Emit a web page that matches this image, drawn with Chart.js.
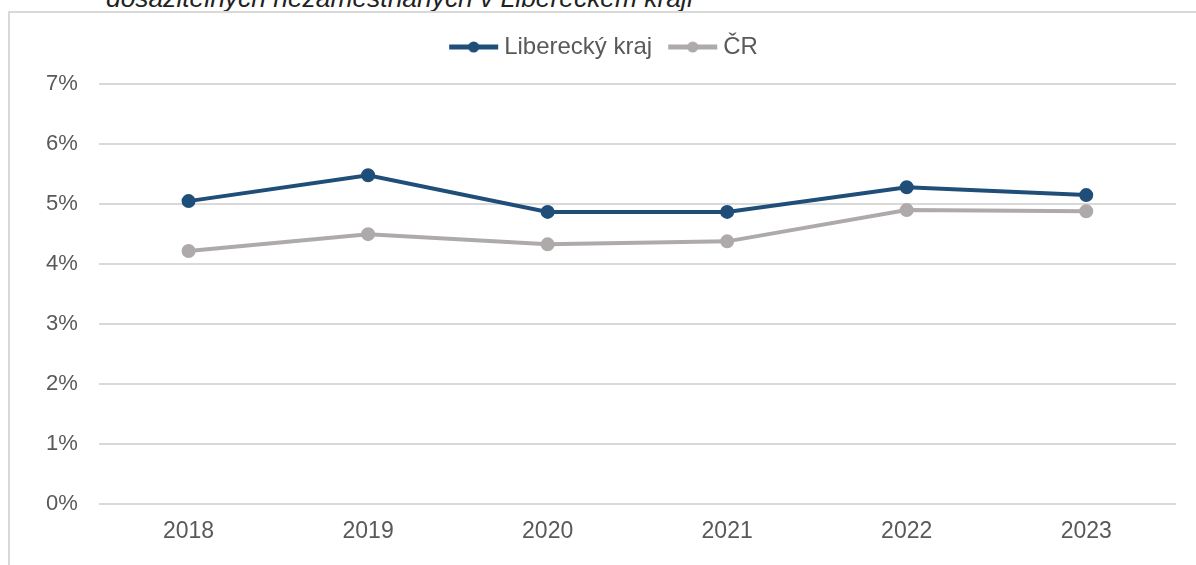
<!DOCTYPE html>
<html>
<head>
<meta charset="utf-8">
<script src="https://cdn.jsdelivr.net/npm/chart.js@4"></script>
<style>
  body { margin: 0; background: #fff; overflow: hidden; width: 1196px; height: 565px; position: relative; font-family: "Liberation Sans", Arial, sans-serif; }
  #title { position: absolute; left: 106px; top: -15px; font-size: 26.4px; line-height: 1; font-style: italic; color: #222; white-space: nowrap; }
  #frame { position: absolute; left: 8px; top: 11px; width: 1300px; height: 700px; border: 2px solid #d9d9d9; box-sizing: border-box; }
  #wrap { position: absolute; left: 0; top: 0; width: 1196px; height: 565px; }
</style>
</head>
<body>
<div id="title">dosažitelných nezaměstnaných v Libereckém kraji</div>
<div id="frame"></div>
<div id="wrap"><canvas id="lineChart"></canvas></div>
<script>
var years = ["2018", "2019", "2020", "2021", "2022", "2023"];
var liberecky = [5.05, 5.48, 4.87, 4.87, 5.28, 5.15];
var cr = [4.22, 4.50, 4.33, 4.38, 4.90, 4.88];
var seriesNames = ["Liberecký kraj", "ČR"];
var seriesColors = ["#1f4e79", "#aeaaaa"];

function legendMarker(color) { // line with a dot, like the excel legend
    var c = document.createElement("canvas");
    c.width = 65; c.height = 12;
    var ctx = c.getContext("2d");
    ctx.strokeStyle = color;
    ctx.lineWidth = 5;
    ctx.beginPath(); ctx.moveTo(14, 6); ctx.lineTo(63, 6); ctx.stroke();
    ctx.fillStyle = color;
    ctx.beginPath(); ctx.arc(38.5, 6, 5.5, 0, Math.PI * 2); ctx.fill();
    return c;
}

// push the plot down below the legend
var legendGap = {
    id: "legendGap",
    beforeInit: function (chart) {
        var fit = chart.legend.fit;
        chart.legend.fit = function () {
            fit.bind(chart.legend)();
            this.height += 15;
        };
    }
};

var datasets = [liberecky, cr].map(function (vals, i) {
    return {
        label: seriesNames[i],
        data: vals,
        borderColor: seriesColors[i],
        backgroundColor: seriesColors[i],
        borderWidth: 4,
        pointRadius: 5,
        pointHoverRadius: 5,
        pointStyle: "circle",
        tension: 0
    };
});

new Chart(document.getElementById("lineChart").getContext("2d"), {
    type: "line",
    data: { labels: years, datasets: datasets },
    options: {
        responsive: true,
        maintainAspectRatio: false,
        animation: false,
        layout: { padding: { left: 25, right: 20, top: 25, bottom: 15 } },
        plugins: {
            legend: {
                position: "top",
                labels: {
                    usePointStyle: true,
                    pointStyleWidth: 49,
                    color: "#595959",
                    font: { size: 24, family: "Liberation Sans" },
                    padding: 10,
                    generateLabels: function (chart) {
                        return chart.data.datasets.map(function (ds, i) {
                            return {
                                text: ds.label,
                                pointStyle: legendMarker(ds.borderColor),
                                fillStyle: ds.borderColor,
                                strokeStyle: ds.borderColor,
                                fontColor: "#595959",
                                lineWidth: 0,
                                datasetIndex: i,
                                hidden: false
                            };
                        });
                    }
                }
            },
            tooltip: { enabled: false }
        },
        scales: {
            x: {
                offset: true,
                grid: { display: false },
                border: { display: false },
                ticks: { color: "#595959", font: { size: 23, family: "Liberation Sans" }, padding: 5 }
            },
            y: {
                min: 0,
                max: 7,
                ticks: {
                    stepSize: 1,
                    color: "#595959",
                    font: { size: 22, family: "Liberation Sans" },
                    padding: 21,
                    callback: function (v) { return v + "%"; }
                },
                grid: { color: "#d9d9d9", lineWidth: 2, drawTicks: false },
                border: { display: false }
            }
        }
    },
    plugins: [legendGap]
});
</script>
</body>
</html>
